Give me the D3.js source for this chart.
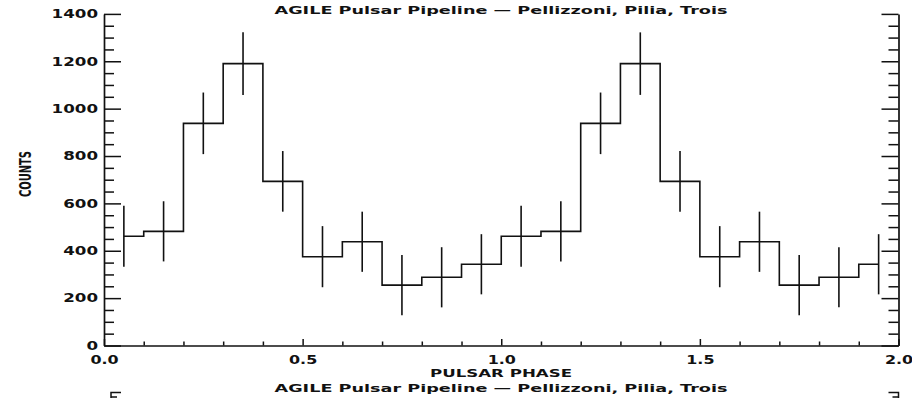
<!DOCTYPE html>
<html lang="en">
<head>
    <meta charset="UTF-8">
    <title>AGILE Pulsar Light Curve</title>
    <style>
        body { margin: 0; background: #fff; }
        svg { display: block; }
        text { font-family: "DejaVu Sans", sans-serif; font-weight: bold; fill: #111; }
    </style>
</head>
<body>
    <div id="chart"></div>

    <script src="https://d3js.org/d3.v7.min.js"></script>
    <script>
        const w = 912;
        const h = 398;

        // bin centres (pulsar phase, two cycles shown)
        const phases = [0.05, 0.15, 0.25, 0.35, 0.45, 0.55, 0.65, 0.75, 0.85, 0.95,
                        1.05, 1.15, 1.25, 1.35, 1.45, 1.55, 1.65, 1.75, 1.85, 1.95];
        const counts = [461, 482, 938, 1190, 693, 375, 438, 255, 288, 343,
                        461, 482, 938, 1190, 693, 375, 438, 255, 288, 343];
        const errors = [129, 127, 130, 132, 128, 129, 127, 127, 127, 127,
                        129, 127, 130, 132, 128, 129, 127, 127, 127, 127];

        const xMajor = [0, 0.5, 1.0, 1.5, 2.0];
        const xMinor = [0.1, 0.2, 0.3, 0.4, 0.6, 0.7, 0.8, 0.9, 1.1, 1.2, 1.3, 1.4, 1.6, 1.7, 1.8, 1.9];
        const yMajor = [0, 200, 400, 600, 800, 1000, 1200, 1400];
        const yMinor = [50, 100, 150, 250, 300, 350, 450, 500, 550, 650, 700, 750,
                        850, 900, 950, 1050, 1100, 1150, 1250, 1300, 1350];

        const titleText = 'AGILE Pulsar Pipeline \u2014 Pellizzoni, Pilia, Trois';
        const xLabel = 'PULSAR PHASE';
        const yLabel = 'COUNTS';

        const padL = 104, padR = 898.5, padT = 13.9, padB = 345.5;

        const x = d3.scaleLinear().domain([0, 2]).range([padL, padR]);
        const y = d3.scaleLinear().domain([0, 1400]).range([padB, padT]);

        const svg = d3.select('#chart')
            .append('svg')
            .attr('width', w)
            .attr('height', h);

        // stretch the label width to mimic the wide IDL vector font
        const labelLen = s => s.replace(/[^0-9]/g, '').length * 11.6 + s.replace(/[0-9]/g, '').length * 5;

        function styleAxis(g) {
            g.selectAll('path.domain').attr('stroke', '#111').attr('stroke-width', 1.7);
            g.selectAll('.tick line').attr('stroke', '#111').attr('stroke-width', 1.5);
            g.selectAll('.tick text')
                .attr('font-size', 12)
                .attr('fill', '#111')
                .attr('textLength', function () { return labelLen(this.textContent); })
                .attr('lengthAdjust', 'spacingAndGlyphs');
        }

        // x axis (bottom only)
        svg.append('g')
            .attr('transform', `translate(0,${padB})`)
            .call(d3.axisBottom(x).tickValues(xMinor).tickSize(-4).tickSizeOuter(0).tickFormat(''))
            .call(styleAxis);
        svg.append('g')
            .attr('transform', `translate(0,${padB})`)
            .call(d3.axisBottom(x).tickValues(xMajor).tickSize(-6.5).tickSizeOuter(0)
                .tickPadding(9.5).tickFormat(d3.format('.1f')))
            .call(g => g.select('path.domain').remove())
            .call(styleAxis);

        // left axis
        svg.append('g')
            .attr('transform', `translate(${padL},0)`)
            .call(d3.axisLeft(y).tickValues(yMinor).tickSize(-10).tickSizeOuter(0).tickFormat(''))
            .call(styleAxis);
        svg.append('g')
            .attr('transform', `translate(${padL},0)`)
            .call(d3.axisLeft(y).tickValues(yMajor).tickSize(-17).tickSizeOuter(0).tickPadding(6)
                .tickFormat(d3.format('d')))
            .call(g => g.select('path.domain').remove())
            .call(styleAxis);

        // right axis
        svg.append('g')
            .attr('transform', `translate(${padR},0)`)
            .call(d3.axisRight(y).tickValues(yMinor).tickSize(-10).tickSizeOuter(0).tickFormat(''))
            .call(styleAxis);
        svg.append('g')
            .attr('transform', `translate(${padR},0)`)
            .call(d3.axisRight(y).tickValues(yMajor).tickSize(-17).tickSizeOuter(0).tickFormat(''))
            .call(g => g.select('path.domain').remove())
            .call(styleAxis);

        // histogram (IDL psym=10 style)
        const bins = phases.map((p, i) => ({ phase: p, count: counts[i], err: errors[i] }));

        const step = d3.line()
            .x(d => x(d.phase))
            .y(d => y(d.count))
            .curve(d3.curveStep);

        svg.append('path')
            .datum(bins)
            .attr('d', step)
            .attr('fill', 'none')
            .attr('stroke', '#111')
            .attr('stroke-width', 1.6);

        svg.selectAll('line.err')
            .data(bins)
            .enter()
            .append('line')
            .attr('class', 'err')
            .attr('x1', d => x(d.phase))
            .attr('x2', d => x(d.phase))
            .attr('y1', d => y(d.count - d.err))
            .attr('y2', d => y(d.count + d.err))
            .attr('stroke', '#111')
            .attr('stroke-width', 1.6);

        // labels
        svg.append('text')
            .attr('x', 501).attr('y', 13.5)
            .attr('text-anchor', 'middle')
            .attr('font-size', 11)
            .attr('textLength', 453).attr('lengthAdjust', 'spacingAndGlyphs')
            .text(titleText);

        svg.append('text')
            .attr('x', 501).attr('y', 377)
            .attr('text-anchor', 'middle')
            .attr('font-size', 11)
            .attr('textLength', 142).attr('lengthAdjust', 'spacingAndGlyphs')
            .text(xLabel);

        svg.append('text')
            .attr('x', 501).attr('y', 391.5)
            .attr('text-anchor', 'middle')
            .attr('font-size', 11)
            .attr('textLength', 453).attr('lengthAdjust', 'spacingAndGlyphs')
            .text(titleText);

        svg.append('text')
            .attr('transform', 'translate(31,174) rotate(-90)')
            .attr('text-anchor', 'middle')
            .attr('font-size', 15)
            .attr('textLength', 46).attr('lengthAdjust', 'spacingAndGlyphs')
            .text(yLabel);

        // top edge of the next panel, cut off by the picture
        const nextTop = 392.5;
        const corner = svg.append('g').attr('stroke', '#111').attr('stroke-width', 1.5).attr('fill', 'none');
        corner.append('path').attr('d', `M111,${h} V${nextTop} H121 M111,${nextTop + 4.5} H117`);
        corner.append('path').attr('d', `M${padR},${h} V${nextTop} H${padR - 10} M${padR},${nextTop + 4.5} H${padR - 6}`);
    </script>
</body>
</html>
